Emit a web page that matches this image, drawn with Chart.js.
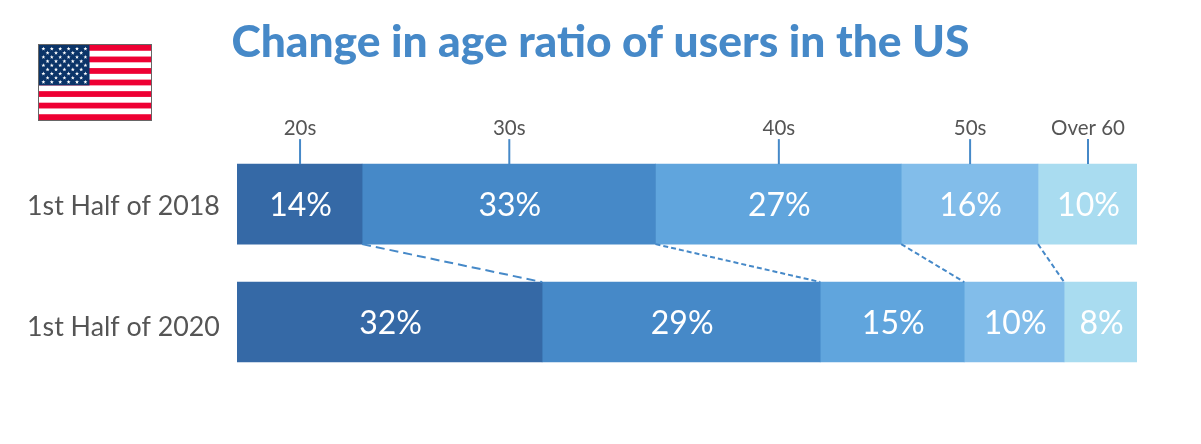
<!DOCTYPE html>
<html><head><meta charset="utf-8">
<style>html,body{margin:0;padding:0;background:#fff}#w{position:relative;width:1201px;height:444px}canvas{display:block}</style>
<script src="https://cdn.jsdelivr.net/npm/chart.js@4"></script>
</head><body><div id="w"><canvas id="c" width="1201" height="444"></canvas></div>
<script>
const chartTitle = "Change in age ratio of users in the US";
const periods = ["1st Half of 2018", "1st Half of 2020"];
const ageGroups = ["20s", "30s", "40s", "50s", "Over 60"];
// Segment lengths as drawn (share of bar length)
const age20s = [13.9, 33.9];
const age30s = [32.6, 30.9];
const age40s = [27.3, 16.0];
const age50s = [15.2, 11.1];
const age60s = [11.0, 8.1];
// Printed labels
const printed20s = ["14%", "32%"];
const printed30s = ["33%", "29%"];
const printed40s = ["27%", "15%"];
const printed50s = ["16%", "10%"];
const printed60s = ["10%", "8%"];
const colors = ["#3569A6", "#4689C8", "#60A5DD", "#82BDEA", "#A9DCF0"];
const connectorDash = [[9, 5], [5, 3], [5, 3], [5, 3]];
const periodLabelShift = [2, 5];
const FONT = "Lato";
const allValues = [age20s, age30s, age40s, age50s, age60s];
const allPrinted = [printed20s, printed30s, printed40s, printed50s, printed60s];

function star(ctx, x, y, r) {
  ctx.beginPath();
  for (let i = 0; i < 10; i++) {
    const a = -Math.PI / 2 + i * Math.PI / 5, q = i % 2 ? r * 0.42 : r;
    ctx.lineTo(x + q * Math.cos(a), y + q * Math.sin(a));
  }
  ctx.closePath(); ctx.fill();
}
const flagPlugin = { id: "flag", beforeDraw(chart) {
  const ctx = chart.ctx, x = 39, y = 45, w = 112, h = 75, s = h / 13;
  ctx.save();
  ctx.fillStyle = "#fff"; ctx.fillRect(x, y, w, h);
  ctx.fillStyle = "#EE0033";
  for (let i = 0; i < 13; i += 2) ctx.fillRect(x, y + i * s, w, s);
  ctx.fillStyle = "#0B3468"; ctx.fillRect(x, y, 50.5, s * 7);
  ctx.fillStyle = "#fff";
  for (let r = 0; r < 9; r++) {
    const n = r % 2 ? 5 : 6;
    for (let c = 0; c < n; c++) star(ctx, x + 4.4 + (r % 2 ? 4.2 : 0) + c * 8.4, y + 3.8 + r * 4.15, 2.1);
  }
  ctx.strokeStyle = "#666"; ctx.lineWidth = 1; ctx.strokeRect(x - .5, y - .5, w + 1, h + 1);
  ctx.restore();
}};
const marksPlugin = { id: "marks",
  beforeDraw(chart) { const t = chart.titleBlock; t.left = 0; t.right = chart.width; },
  afterDatasetsDraw(chart) {
    const ctx = chart.ctx;
    const m = allValues.map((_, i) => chart.getDatasetMeta(i).data);
    ctx.save();
    ctx.textBaseline = "middle";
    // period labels, left aligned on the axis box
    ctx.textAlign = "left"; ctx.fillStyle = "#555"; ctx.font = "26.8px " + FONT;
    periods.forEach((p, j) => ctx.fillText(p, chart.scales.y.left, chart.scales.y.getPixelForTick(j) + periodLabelShift[j]));
    ctx.textAlign = "center";
    // connectors between the two bars
    ctx.strokeStyle = "#4689C8"; ctx.lineWidth = 2;
    for (let i = 0; i < 4; i++) {
      const a = m[i][0], b = m[i][1];
      ctx.setLineDash(connectorDash[i]);
      ctx.beginPath();
      ctx.moveTo(a.x, a.y + a.height / 2);
      ctx.lineTo(b.x, b.y - b.height / 2);
      ctx.stroke();
    }
    ctx.setLineDash([]);
    // leaders + age labels
    m.forEach((bars, i) => {
      const b = bars[0], cx = (b.base + b.x) / 2 + 0.5, top = b.y - b.height / 2;
      ctx.strokeStyle = "#4689C8"; ctx.lineWidth = 2;
      ctx.beginPath(); ctx.moveTo(cx, top - 25); ctx.lineTo(cx, top); ctx.stroke();
      ctx.fillStyle = "#555"; ctx.font = "20.5px " + FONT;
      ctx.fillText(ageGroups[i], cx, top - 36);
      // value labels
      ctx.fillStyle = "#fff"; ctx.font = "32px " + FONT;
      bars.forEach((bb, j) => ctx.fillText(allPrinted[i][j], (bb.base + bb.x) / 2 + 1, bb.y + 2));
    });
    ctx.restore();
  }
};
new Chart(document.getElementById("c"), {
  type: "bar",
  data: { labels: periods, datasets: allValues.map((v, i) => ({
    label: ageGroups[i], data: v, backgroundColor: colors[i], borderWidth: 0,
    barThickness: 80 })) },
  plugins: [flagPlugin, marksPlugin],
  options: {
    indexAxis: "y", responsive: false, animation: false,
    layout: { padding: { left: 27, right: 64, top: 0, bottom: 63 } },
    plugins: {
      legend: { display: false }, tooltip: { enabled: false },
      title: { display: true, text: chartTitle, color: "#4689C8",
        font: { family: FONT, size: 44.3, weight: "900", lineHeight: 1.2 },
        padding: { top: 16, bottom: 76 } }
    },
    scales: {
      x: { stacked: true, min: 0, max: 100, display: false },
      y: { stacked: true, grid: { display: false }, border: { display: false },
        afterFit(s) { s.width = 210; },
        ticks: { display: false } }
    }
  }
});
</script></body></html>
